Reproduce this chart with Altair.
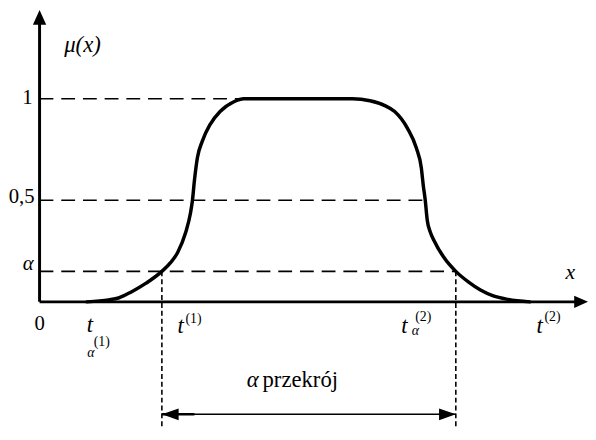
import altair as alt
import pandas as pd

# membership curve: x position (arbitrary units), mu(x)
curve_x = [48, 70, 80, 93, 108, 124, 133, 140, 148, 153, 155, 157, 160, 165, 173, 183, 197, 207,
           260, 317, 335, 350, 360, 373, 382, 387, 389, 391, 393, 396, 400, 410, 422, 435,
           447, 460, 475, 497]
curve_mu = [0.0, 0.010, 0.019, 0.049, 0.092, 0.150, 0.194, 0.243, 0.340, 0.437, 0.500, 0.597,
            0.709, 0.791, 0.874, 0.937, 0.985, 1.0, 1.0, 1.0, 0.990, 0.966, 0.937, 0.854, 0.757,
            0.660, 0.573, 0.500, 0.403, 0.345, 0.301, 0.218, 0.150, 0.097, 0.058, 0.029, 0.012, 0.0]

alpha = 0.15
t_alpha_1 = 124
t_alpha_2 = 422
x_min, x_max = -32, 556
mu_min, mu_max = -129 / 206, 295 / 206

# guide levels
level_mu = [1.0, 0.5, alpha]
level_end = [205, 391, 422]

# labels
lab_text = ["μ(x)", "1", "0,5", "α", "0", "t", "(1)", "α", "t", "(1)", "t", "α", "(2)", "t", "(2)", "x", "α", "przekrój"]
lab_x = [25, -7, -5, -6, 0, 51, 63, 52, 143, 156, 370, 381, 389, 507, 520, 538, 216, 226]
lab_mu = [1.262, 1.005, 0.515, 0.184, -0.107, -0.112, -0.199, -0.252, -0.117, -0.083, -0.117,
          -0.146, -0.073, -0.117, -0.073, 0.146, -0.383, -0.383]
lab_size = [23, 21, 21, 21, 21, 23, 14, 14, 23, 14, 23, 14, 14, 23, 14, 22, 23, 23]
lab_style = ["italic", "normal", "normal", "italic", "normal", "italic", "normal", "italic",
             "italic", "normal", "italic", "italic", "normal", "italic", "normal", "italic",
             "italic", "normal"]
lab_align = ["left", "right", "right", "right", "center", "center", "center", "center", "center",
             "center", "center", "center", "center", "center", "center", "center", "center", "left"]

FONT = "Liberation Serif"
xs = alt.Scale(domain=[x_min, x_max])
ys = alt.Scale(domain=[mu_min, mu_max])
X = lambda f: alt.X(f, type="quantitative", scale=xs, axis=None)
Y = lambda f: alt.Y(f, type="quantitative", scale=ys, axis=None)

curve_df = pd.DataFrame({"x": curve_x, "mu": curve_mu})

axes_df = pd.DataFrame({"x": [0, 0], "x2": [0, 548], "mu": [0, 0], "mu2": [1.40, 0]})
axes = alt.Chart(axes_df).mark_rule(strokeWidth=3, color="black").encode(
    x=X("x"), x2="x2", y=Y("mu"), y2="mu2")

up_df = pd.DataFrame({"x": [0], "mu": [296 / 206]})
up = alt.Chart(up_df).mark_point(shape="M0,0L-0.9,2L0.9,2Z", size=225, filled=True,
                                 opacity=1, color="black", strokeWidth=0).encode(x=X("x"), y=Y("mu"))
right_df = pd.DataFrame({"x": [x_max], "mu": [0]})
right = alt.Chart(right_df).mark_point(shape="M0,0L-2,-0.9L-2,0.9Z", size=196, filled=True,
                                       opacity=1, color="black", strokeWidth=0).encode(x=X("x"), y=Y("mu"))

lev_df = pd.DataFrame({"x": [0] * 3, "x2": level_end, "mu": level_mu})
levels = alt.Chart(lev_df).mark_rule(strokeWidth=1.6, strokeDash=[14, 8], color="black").encode(
    x=X("x"), x2="x2", y=Y("mu"))

vert_df = pd.DataFrame({"x": [t_alpha_1, t_alpha_2], "mu": [alpha, alpha], "mu2": [mu_min, mu_min]})
verts = alt.Chart(vert_df).mark_rule(strokeWidth=1.6, strokeDash=[5, 3], color="black").encode(
    x=X("x"), y=Y("mu"), y2="mu2")

arrow_mu = -114 / 206
span_df = pd.DataFrame({"x": [t_alpha_1], "x2": [t_alpha_2], "mu": [arrow_mu]})
span = alt.Chart(span_df).mark_rule(strokeWidth=1.5, color="black").encode(
    x=X("x"), x2="x2", y=Y("mu"))
thick_df = pd.DataFrame({"x": [t_alpha_1], "x2": [157], "mu": [arrow_mu]})
thick = alt.Chart(thick_df).mark_rule(strokeWidth=2.6, color="black").encode(
    x=X("x"), x2="x2", y=Y("mu"))
lhead = alt.Chart(pd.DataFrame({"x": [t_alpha_1], "mu": [arrow_mu]})).mark_point(
    shape="M0,0L2,-0.7L2,0.7Z", size=289, filled=True, opacity=1, color="black", strokeWidth=0
).encode(x=X("x"), y=Y("mu"))
rhead = alt.Chart(pd.DataFrame({"x": [t_alpha_2], "mu": [arrow_mu]})).mark_point(
    shape="M0,0L-2,-0.7L-2,0.7Z", size=289, filled=True, opacity=1, color="black", strokeWidth=0
).encode(x=X("x"), y=Y("mu"))

curve = alt.Chart(curve_df).mark_line(strokeWidth=3.5, color="black", interpolate="monotone",
                                      strokeCap="round").encode(x=X("x"), y=Y("mu"))

lab_df = pd.DataFrame({"x": lab_x, "mu": lab_mu, "text": lab_text, "fs": lab_size,
                       "st": lab_style, "al": lab_align})
texts = []
for (st, al, fs), sub in lab_df.groupby(["st", "al", "fs"]):
    texts.append(alt.Chart(sub[["x", "mu", "text"]]).mark_text(
        font=FONT, fontStyle=st, align=al, baseline="middle", fontSize=int(fs), color="black"
    ).encode(x=X("x"), y=Y("mu"), text="text:N"))

chart = alt.layer(levels, verts, span, thick, lhead, rhead, axes, up, right, curve, *texts).properties(
    width=588, height=424, padding=0, autosize=alt.AutoSizeParams(type="none")
).configure_view(strokeWidth=0)

chart.save("out.html", embed_options={"renderer": "svg", "actions": False})
